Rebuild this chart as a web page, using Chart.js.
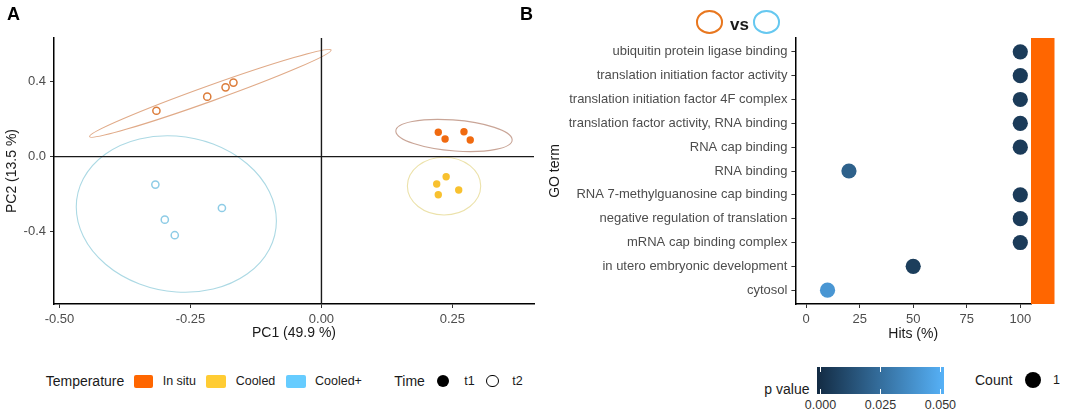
<!DOCTYPE html>
<html>
<head>
<meta charset="utf-8">
<script src="https://cdn.jsdelivr.net/npm/chart.js@4.4.1/dist/chart.umd.min.js"></script>
<style>
  body { margin: 0; width: 1065px; height: 416px; background: #fff; position: relative; overflow: hidden;
         font-family: "Liberation Sans", Arial, sans-serif; }
  canvas { position: absolute; top: 0; }
  #chartA { left: 0; }
  #chartB { left: 545px; }
  .txt { position: absolute; white-space: nowrap; color: #1a1a1a; font-size: 12.5px; line-height: 16px; transform: translateY(-50%); }
  .ttl { font-size: 14px; }
  .panel { position: absolute; font-weight: bold; font-size: 18px; line-height: 18px; color: #000; z-index: 5; }
  .box { position: absolute; }
</style>
</head>
<body>
<canvas id="chartA" width="545" height="345"></canvas>
<canvas id="chartB" width="520" height="345"></canvas>
<div class="panel" style="left:7px; top:5px;">A</div>
<div class="panel" style="left:520px; top:5px;">B</div>
<div id="legend"></div>

<script>
// ---- panel A data (PCA scores) ----
const insituT1X = [0.223, 0.236, 0.272, 0.284];
const insituT1Y = [0.130, 0.094, 0.133, 0.089];
const cooledT1X = [0.238, 0.220, 0.223, 0.262];
const cooledT1Y = [-0.107, -0.146, -0.203, -0.178];
const insituT2X = [-0.315, -0.218, -0.183, -0.168];
const insituT2Y = [0.245, 0.320, 0.370, 0.395];
const cooledPlusT2X = [-0.317, -0.299, -0.280, -0.190];
const cooledPlusT2Y = [-0.149, -0.336, -0.419, -0.274];

// confidence ellipses: centre and two conjugate half-axes, in data units
const ellipseCenters = [[-0.212, 0.338], [-0.277, -0.306], [0.253, 0.113], [0.234, -0.157]];
const ellipseAxisA = [[0.2305, 0.231], [0.191, -0.037], [0.111, -0.022], [0.070, 0]];
const ellipseAxisB = [[0.005, -0.039], [0, 0.416], [-0.002, 0.083], [0, 0.154]];
const ellipseColors = ['#e0aa88', '#acd9e4', '#c9a597', '#ece2ab'];

const pcTicksX = [-0.5, -0.25, 0, 0.25];
const pcTicksY = [-0.4, 0, 0.4];

// legend A
const tempLevels = ['In situ', 'Cooled', 'Cooled+'];
const tempColors = ['#ff6600', '#ffcc33', '#66ccff'];
const timeLevels = ['t1', 't2'];

// ---- panel B data (GO enrichment) ----
const goTerms = [
  'ubiquitin protein ligase binding',
  'translation initiation factor activity',
  'translation initiation factor 4F complex',
  'translation factor activity, RNA binding',
  'RNA cap binding',
  'RNA binding',
  'RNA 7-methylguanosine cap binding',
  'negative regulation of translation',
  'mRNA cap binding complex',
  'in utero embryonic development',
  'cytosol'
];
const hitsPct = [100, 100, 100, 100, 100, 20, 100, 100, 100, 50, 10];
const pValues = [0.006, 0.006, 0.006, 0.006, 0.006, 0.020, 0.006, 0.006, 0.006, 0.007, 0.040];
const hitsTicks = [0, 25, 50, 75, 100];
const pTicks = [0, 0.025, 0.05];

const FONT = '"Liberation Sans", Arial, sans-serif';

// ggplot default continuous colour scale
function pColor(p) {
  const lo = [19, 43, 67], hi = [86, 177, 247];
  const t = Math.max(0, Math.min(1, p / 0.05));
  const c = lo.map((v, i) => Math.round(v + (hi[i] - v) * t));
  return `rgb(${c[0]},${c[1]},${c[2]})`;
}

function pts(xs, ys) {
  return xs.map((x, i) => ({ x: x, y: ys[i] }));
}

// Ellipses drawn through the chart scales
const ellipsePlugin = {
  id: 'ellipses',
  beforeDatasetsDraw(chart) {
    const { ctx, scales: { x, y } } = chart;
    ellipseCenters.forEach((c, i) => {
      const cx = x.getPixelForValue(c[0]);
      const cy = y.getPixelForValue(c[1]);
      const a = ellipseAxisA[i], b = ellipseAxisB[i];
      const ax = x.getPixelForValue(c[0] + a[0]) - cx;
      const ay = y.getPixelForValue(c[1] + a[1]) - cy;
      const bx = x.getPixelForValue(c[0] + b[0]) - cx;
      const by = y.getPixelForValue(c[1] + b[1]) - cy;
      ctx.save();
      ctx.beginPath();
      ctx.save();
      ctx.transform(ax, ay, bx, by, cx, cy);
      ctx.arc(0, 0, 1, 0, Math.PI * 2);
      ctx.restore();
      ctx.strokeStyle = ellipseColors[i];
      ctx.lineWidth = 1.1;
      ctx.stroke();
      ctx.restore();
    });
  }
};

// hline / vline at zero
const zeroLinePlugin = {
  id: 'zeroLines',
  beforeDatasetsDraw(chart) {
    const { ctx, chartArea: ca, scales: { x, y } } = chart;
    const x0 = x.getPixelForValue(0), y0 = y.getPixelForValue(0);
    ctx.save();
    ctx.strokeStyle = '#1a1a1a';
    ctx.lineWidth = 1.4;
    ctx.beginPath();
    ctx.moveTo(x0, ca.top); ctx.lineTo(x0, ca.bottom);
    ctx.moveTo(ca.left, y0); ctx.lineTo(ca.right, y0);
    ctx.stroke();
    ctx.restore();
  }
};

// facet strip on the right of panel B
const stripPlugin = {
  id: 'strip',
  afterDraw(chart) {
    const { ctx, chartArea: ca } = chart;
    ctx.save();
    ctx.fillStyle = '#ff6600';
    ctx.fillRect(ca.right, ca.top, 23.5, ca.bottom - ca.top);
    ctx.restore();
  }
};

function axisOpts(extra) {
  return Object.assign({
    grid: { display: true, drawOnChartArea: false, drawTicks: true, tickLength: 4, color: '#333', lineWidth: 1 },
    border: { display: true, color: '#000', width: 1.5 },
    ticks: { color: '#4d4d4d', font: { size: 13, family: FONT }, padding: 4, maxRotation: 0, autoSkip: false }
  }, extra);
}

// ---- Chart A ----
const chartA = new Chart(document.getElementById('chartA'), {
  type: 'scatter',
  data: {
    datasets: [
      { data: pts(insituT1X, insituT1Y), pointRadius: 3.7, pointBackgroundColor: '#f06a10', pointBorderWidth: 0 },
      { data: pts(cooledT1X, cooledT1Y), pointRadius: 3.7, pointBackgroundColor: '#f8c12f', pointBorderWidth: 0 },
      { data: pts(insituT2X, insituT2Y), pointRadius: 3.6, pointBackgroundColor: '#fff', pointBorderColor: '#dc7c3a', pointBorderWidth: 1.5 },
      { data: pts(cooledPlusT2X, cooledPlusT2Y), pointRadius: 3.6, pointBackgroundColor: '#fff', pointBorderColor: '#8ecce6', pointBorderWidth: 1.5 }
    ]
  },
  options: {
    responsive: false,
    animation: false,
    layout: { padding: { top: 38, right: 11, left: 0, bottom: 0 } },
    plugins: { legend: { display: false }, tooltip: { enabled: false } },
    scales: {
      x: axisOpts({
        type: 'linear', min: -0.5105, max: 0.4057,
        afterBuildTicks: s => { s.ticks = pcTicksX.map(v => ({ value: v })); },
        afterFit: s => { s.height = 41; },
        title: { display: true, text: 'PC1 (49.9 %)', color: '#1a1a1a', font: { size: 14, family: FONT }, padding: { top: 0, bottom: 3 } }
      }),
      y: axisOpts({
        type: 'linear', min: -0.786, max: 0.633,
        afterBuildTicks: s => { s.ticks = pcTicksY.map(v => ({ value: v })); },
        afterFit: s => { s.width = 54; },
        title: { display: true, text: 'PC2 (13.5 %)', color: '#1a1a1a', font: { size: 14, family: FONT }, padding: { top: 4, bottom: 0 } }
      })
    }
  },
  plugins: [ellipsePlugin, zeroLinePlugin]
});
chartA.options.scales.x.ticks.callback = v => v.toFixed(2);
chartA.options.scales.y.ticks.callback = v => v.toFixed(1);
chartA.update();

// ---- Chart B ----
const chartB = new Chart(document.getElementById('chartB'), {
  type: 'scatter',
  data: {
    datasets: [{
      data: hitsPct.map((h, i) => ({ x: h, y: i })),
      pointRadius: 7.6,
      pointBackgroundColor: pValues.map(pColor),
      pointBorderWidth: 0
    }]
  },
  options: {
    responsive: false,
    animation: false,
    layout: { padding: { top: 38, right: 34, left: 0, bottom: 0 } },
    plugins: { legend: { display: false }, tooltip: { enabled: false } },
    scales: {
      x: axisOpts({
        type: 'linear', min: -5, max: 105,
        afterBuildTicks: s => { s.ticks = hitsTicks.map(v => ({ value: v })); },
        afterFit: s => { s.height = 41; },
        title: { display: true, text: 'Hits (%)', color: '#1a1a1a', font: { size: 14, family: FONT }, padding: { top: 0, bottom: 2 } }
      }),
      y: axisOpts({
        type: 'linear', min: -0.58, max: 10.58, reverse: true,
        afterBuildTicks: s => { s.ticks = goTerms.map((_, i) => ({ value: i })); },
        afterFit: s => { s.width = 250.4; },
        title: { display: true, text: 'GO term', color: '#1a1a1a', font: { size: 14, family: FONT }, padding: { top: 2, bottom: 0 } }
      })
    }
  },
  plugins: [stripPlugin]
});
chartB.options.scales.y.ticks.callback = v => goTerms[v];
chartB.update();

// ---- legends and header (HTML) ----
const leg = document.getElementById('legend');
function addText(text, left, cy, cls, extra) {
  const d = document.createElement('div');
  d.className = 'txt ' + (cls || '');
  d.textContent = text;
  d.style.left = left + 'px';
  d.style.top = cy + 'px';
  if (extra) Object.assign(d.style, extra);
  leg.appendChild(d);
  return d;
}
function addBox(left, top, w, h, style) {
  const d = document.createElement('div');
  d.className = 'box';
  Object.assign(d.style, { left: left + 'px', top: top + 'px', width: w + 'px', height: h + 'px' }, style);
  leg.appendChild(d);
  return d;
}

const legY = 381;
addText('Temperature', 45.7, legY, 'ttl');
const swatchX = [133.5, 206, 286];
const labelX = [162.7, 235.7, 315];
tempLevels.forEach((t, i) => {
  addBox(swatchX[i], legY - 6.5, 19.5, 13, { background: tempColors[i], borderRadius: '2px' });
  addText(t, labelX[i], legY, '');
});
addText('Time', 394.3, legY, 'ttl');
addBox(443 - 6.3, legY - 6.3, 12.6, 12.6, { background: '#000', borderRadius: '50%' });
addText(timeLevels[0], 464.3, legY, '');
addBox(492.7 - 6.3, legY - 6.3, 12.6, 12.6, { border: '1.3px solid #000', borderRadius: '50%', boxSizing: 'border-box' });
addText(timeLevels[1], 512.3, legY, '');

// colour bar
const barL = 817.2, barR = 944, barT = 366.7, barB = 394;
addBox(barL, barT, barR - barL, barB - barT, { background: 'linear-gradient(to right, #132b43, #56b1f7)' });
const p0x = 820.5, p1x = 940.4;
pTicks.forEach(p => {
  const px = p0x + (p / 0.05) * (p1x - p0x);
  addBox(px - 0.5, barT, 1, 5, { background: '#fff' });
  addBox(px - 0.5, barB - 5, 1, 5, { background: '#fff' });
  const lbl = addText(p.toFixed(3), px, 405, '', { fontSize: '12.5px', color: '#333' });
  lbl.style.transform = 'translate(-50%, -50%)';
});
const pv = addText('p value', 809.5, 389, 'ttl');
pv.style.transform = 'translate(-100%, -50%)';

addText('Count', 975, 380, 'ttl');
addBox(1032.8 - 8.2, 380 - 8.2, 16.4, 16.4, { background: '#000', borderRadius: '50%' });
addText('1', 1053, 380, '');

// header "vs"
addBox(696, 10, 27.3, 24, { border: '2px solid #e8771f', borderRadius: '50%', boxSizing: 'border-box' });
addText('vs', 730, 24.5, '', { fontWeight: 'bold', fontSize: '17px' });
addBox(752.7, 10, 27.3, 24, { border: '2px solid #66c8f0', borderRadius: '50%', boxSizing: 'border-box' });
</script>
</body>
</html>
